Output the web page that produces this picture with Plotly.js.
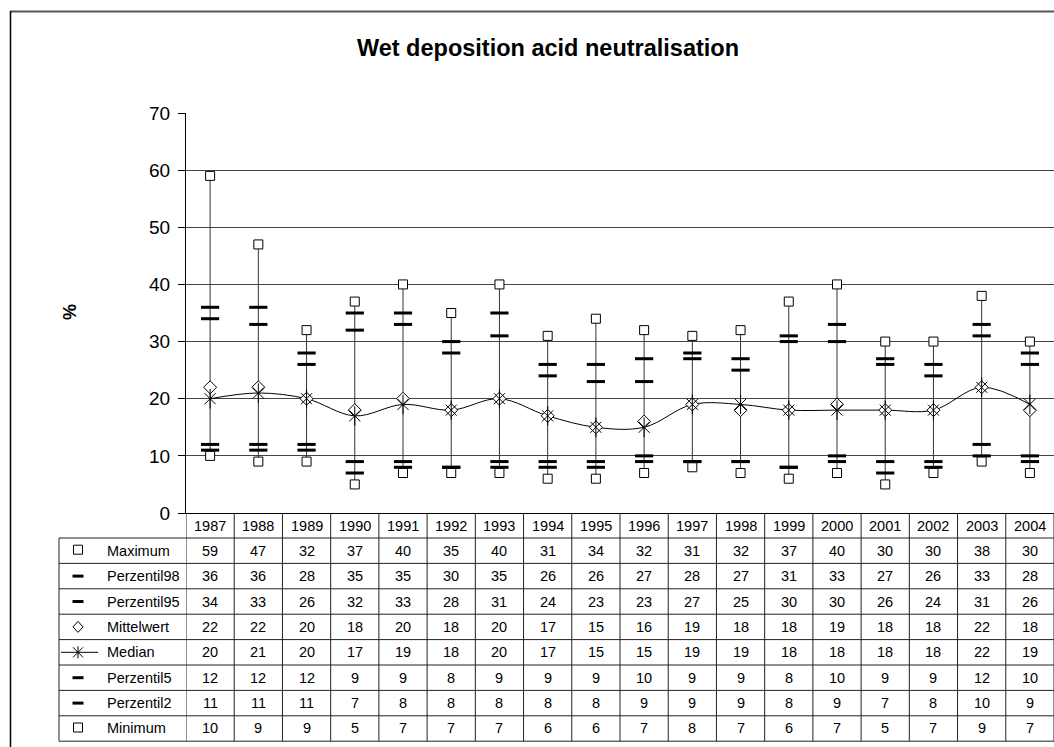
<!DOCTYPE html>
<html>
<head>
<meta charset="utf-8">
<script src="https://cdn.plot.ly/plotly-3.0.1.min.js"></script>
<style>html,body{margin:0;padding:0;background:#fff;}#chart{width:1054px;height:747px;}</style>
</head>
<body>
<div id="chart"></div>
<script>
// ---- data ----
const years = ['1987','1988','1989','1990','1991','1992','1993','1994','1995','1996','1997','1998','1999','2000','2001','2002','2003','2004'];
const maximum     = [59,47,32,37,40,35,40,31,34,32,31,32,37,40,30,30,38,30];
const perzentil98 = [36,36,28,35,35,30,35,26,26,27,28,27,31,33,27,26,33,28];
const perzentil95 = [34,33,26,32,33,28,31,24,23,23,27,25,30,30,26,24,31,26];
const mittelwert  = [22,22,20,18,20,18,20,17,15,16,19,18,18,19,18,18,22,18];
const median      = [20,21,20,17,19,18,20,17,15,15,19,19,18,18,18,18,22,19];
const perzentil5  = [12,12,12,9,9,8,9,9,9,10,9,9,8,10,9,9,12,10];
const perzentil2  = [11,11,11,7,8,8,8,8,8,9,9,9,8,9,7,8,10,9];
const minimum     = [10,9,9,5,7,7,7,6,6,7,8,7,6,7,5,7,9,7];
const rowNames = ['Maximum','Perzentil98','Perzentil95','Mittelwert','Median','Perzentil5','Perzentil2','Minimum'];
const rowData  = [maximum,perzentil98,perzentil95,mittelwert,median,perzentil5,perzentil2,minimum];
const rowSym   = ['square','dash','dash','diamond','median','dash','dash','square'];

// ---- layout geometry (pixels) ----
const W = 1054, H = 747;
const L = 186, R = 1054, T = 113, B = 513;
const px = x => (x - L) / (R - L);
const py = y => (B - y) / (B - T);
const FONT = 'Liberation Sans, Arial, sans-serif';
const idx = years.map((_, i) => i);

const hlX = [], hlY = [];
idx.forEach(i => { hlX.push(i, i, null); hlY.push(minimum[i], maximum[i], null); });

const traces = [
  {x: hlX, y: hlY, mode: 'lines', line: {color: '#333', width: 1}, hoverinfo: 'skip', showlegend: false},
  {x: idx, y: median, mode: 'lines', line: {color: '#000', width: 1, shape: 'spline', smoothing: 1}, hoverinfo: 'skip', showlegend: false},
];
function sq(y, name) { return {x: idx, y: y, name: name, mode: 'markers', marker: {symbol: 'square', size: 9, color: '#fff', line: {color: '#000', width: 1}}, showlegend: false}; }
function dash(y, name) { return {x: idx, y: y, name: name, mode: 'markers', marker: {symbol: 'line-ew', size: 13, color: '#000', line: {color: '#000', width: 3}}, showlegend: false}; }
traces.push(dash(perzentil98, 'Perzentil98'), dash(perzentil95, 'Perzentil95'), dash(perzentil5, 'Perzentil5'), dash(perzentil2, 'Perzentil2'));
traces.push(sq(maximum, 'Maximum'), sq(minimum, 'Minimum'));
traces.push({x: idx, y: mittelwert, name: 'Mittelwert', mode: 'markers', marker: {symbol: 'diamond', size: 10, color: '#fff', line: {color: '#000', width: 1}}, showlegend: false});
traces.push({x: idx, y: median, name: 'Median', mode: 'markers', marker: {symbol: 'x-thin', size: 11, color: '#000', line: {color: '#000', width: 1}}, showlegend: false});
traces.push({x: idx, y: median, name: 'Median', mode: 'markers', marker: {symbol: 'line-ns', size: 14, color: '#000', line: {color: '#000', width: 1}}, showlegend: false, hoverinfo: 'skip'});

// ---- table shapes & annotations ----
const shapes = [], annotations = [];
const HDR_TOP = 513, HDR_BOT = 538, ROW_H = 25.4, TBL_L = 59;
const tblBot = HDR_BOT + ROW_H * rowNames.length;
const lc = '#222';
// frame
shapes.push({type: 'line', xref: 'paper', yref: 'paper', x0: px(10), x1: px(1054), y0: py(11.5), y1: py(11.5), line: {color: '#555', width: 2}});
shapes.push({type: 'line', xref: 'paper', yref: 'paper', x0: px(10.5), x1: px(10.5), y0: py(11), y1: py(747), line: {color: '#000', width: 1.5}});
// horizontal table lines
for (let r = 0; r <= rowNames.length; r++) {
  const y = py(HDR_BOT + r * ROW_H);
  shapes.push({type: 'line', xref: 'paper', yref: 'paper', x0: px(TBL_L), x1: px(1054), y0: y, y1: y, line: {color: lc, width: 1}});
}
// vertical table lines
for (let k = 0; k <= years.length; k++) {
  shapes.push({type: 'line', xref: 'x', yref: 'paper', x0: k - 0.5, x1: k - 0.5, y0: py(HDR_TOP), y1: py(tblBot), line: {color: lc, width: 1}});
}
shapes.push({type: 'line', xref: 'paper', yref: 'paper', x0: px(TBL_L), x1: px(TBL_L), y0: py(HDR_BOT), y1: py(tblBot), line: {color: lc, width: 1}});

const tf = {family: FONT, size: 14.5, color: '#000'};
years.forEach((yr, i) => annotations.push({x: i, xref: 'x', y: py((HDR_TOP + HDR_BOT) / 2), yref: 'paper', text: yr, showarrow: false, font: tf, xanchor: 'center', yanchor: 'middle'}));
rowNames.forEach((nm, r) => {
  const cy = HDR_BOT + ROW_H * (r + 0.5);
  annotations.push({x: px(105), xref: 'paper', y: py(cy), yref: 'paper', text: nm, showarrow: false, font: tf, xanchor: 'left', yanchor: 'middle'});
  rowData[r].forEach((v, i) => annotations.push({x: i, xref: 'x', y: py(cy), yref: 'paper', text: String(v), showarrow: false, font: tf, xanchor: 'center', yanchor: 'middle'}));
  const sx = 78, s = rowSym[r];
  if (s === 'square') {
    shapes.push({type: 'rect', xref: 'paper', yref: 'paper', x0: px(sx - 4.5), x1: px(sx + 4.5), y0: py(cy + 3.5), y1: py(cy - 5.5), line: {color: '#000', width: 1}, fillcolor: '#fff'});
  } else if (s === 'dash') {
    shapes.push({type: 'rect', xref: 'paper', yref: 'paper', x0: px(sx - 5.5), x1: px(sx + 5.5), y0: py(cy + 1.5), y1: py(cy - 1.5), line: {width: 0}, fillcolor: '#000'});
  } else if (s === 'diamond') {
    shapes.push({type: 'path', xref: 'paper', yref: 'paper', path: `M${px(sx)},${py(cy - 5.5)} L${px(sx + 5)},${py(cy)} L${px(sx)},${py(cy + 5.5)} L${px(sx - 5)},${py(cy)} Z`, line: {color: '#000', width: 1}, fillcolor: '#fff'});
  } else if (s === 'median') {
    shapes.push({type: 'line', xref: 'paper', yref: 'paper', x0: px(61), x1: px(98), y0: py(cy), y1: py(cy), line: {color: '#000', width: 1}});
    shapes.push({type: 'line', xref: 'paper', yref: 'paper', x0: px(sx - 5), x1: px(sx + 5), y0: py(cy - 5), y1: py(cy + 5), line: {color: '#000', width: 1}});
    shapes.push({type: 'line', xref: 'paper', yref: 'paper', x0: px(sx - 5), x1: px(sx + 5), y0: py(cy + 5), y1: py(cy - 5), line: {color: '#000', width: 1}});
    shapes.push({type: 'line', xref: 'paper', yref: 'paper', x0: px(sx), x1: px(sx), y0: py(cy - 6), y1: py(cy + 6), line: {color: '#000', width: 1}});
  }
});
// y axis title
annotations.push({x: px(70), xref: 'paper', y: py(312), yref: 'paper', text: '<b>%</b>', textangle: -90, showarrow: false, font: {family: FONT, size: 18, color: '#000'}, xanchor: 'center', yanchor: 'middle'});

const layout = {
  width: W, height: H,
  margin: {l: L, r: W - R, t: T, b: H - B, pad: 0},
  paper_bgcolor: '#fff', plot_bgcolor: '#fff',
  font: {family: FONT, color: '#000'},
  title: {text: '<b>Wet deposition acid neutralisation</b>', x: 548 / W, xanchor: 'center', y: 1 - 48 / H, yanchor: 'middle', font: {family: FONT, size: 23.5, color: '#000'}},
  xaxis: {range: [-0.5, years.length - 0.5], showticklabels: false, ticks: '', showgrid: false, zeroline: false, showline: true, linecolor: '#000', linewidth: 1, fixedrange: true},
  yaxis: {range: [0, 70], dtick: 10, tick0: 0, showgrid: true, gridcolor: '#444', gridwidth: 1, zeroline: false, showline: true, linecolor: '#000', linewidth: 1, ticks: 'outside', ticklen: 7, tickcolor: '#000', tickfont: {family: FONT, size: 19, color: '#000'}, ticklabelstandoff: 4, fixedrange: true},
  showlegend: false,
  shapes: shapes,
  annotations: annotations
};
Plotly.newPlot('chart', traces, layout, {displayModeBar: false, staticPlot: true});
</script>
</body>
</html>
